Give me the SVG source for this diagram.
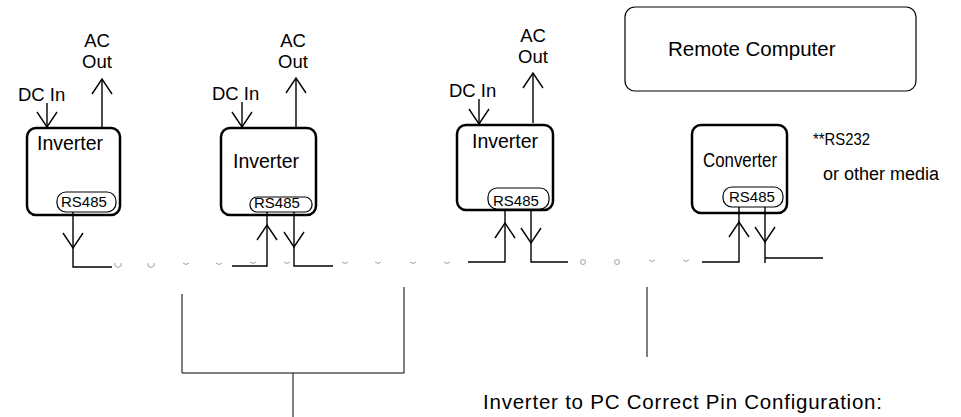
<svg xmlns="http://www.w3.org/2000/svg" width="961" height="417" viewBox="0 0 961 417">
<style>
.t{font-family:"Liberation Sans",Arial,sans-serif;fill:#000}
.box{fill:#fff;stroke:#000;stroke-width:2.5}
.pill{fill:#fff;stroke:#000;stroke-width:1.2}
.ln{fill:none;stroke:#000;stroke-width:1.4}
.thin{fill:none;stroke:#000;stroke-width:1}
.mk{fill:none;stroke:#999;stroke-width:0.9}
</style>
<defs>
<marker id="ah" markerUnits="userSpaceOnUse" viewBox="-17 -12 19 24" markerWidth="19" markerHeight="24" refX="0" refY="0" orient="auto">
<path d="M-15,-10 L0,0 L-15,10" fill="none" stroke="#000" stroke-width="1.4"/>
</marker>
<path id="sm" d="M-3,-1 Q0,2 3,-1" class="mk"/>
<path id="cup" d="M-3,-3 L-3,0 Q0,3 3,0 L3,-3" class="mk"/>
<circle id="oo" r="2.5" class="mk"/>
</defs>
<rect width="961" height="417" fill="#fff"/>

<g id="remote-computer">
<rect x="625" y="7" width="291" height="84" rx="10" fill="#fff" stroke="#000" stroke-width="1.2"/>
<text class="t" x="668" y="56" font-size="20.5">Remote Computer</text>
</g>

<g id="inverter1">
<rect class="box" x="27" y="128" width="93" height="87" rx="9"/>
<text class="t" x="37" y="150" font-size="19.5">Inverter</text>
<rect class="pill" x="57" y="192" width="59" height="20" rx="9"/>
<text class="t" x="61" y="207" font-size="15">RS485</text>
<text class="t" x="18" y="101" font-size="18.5">DC In</text>
<text class="t" x="97" y="47" font-size="18.5" text-anchor="middle">AC</text>
<text class="t" x="97" y="68" font-size="18.5" text-anchor="middle">Out</text>
</g>

<g id="inverter2">
<rect class="box" x="221" y="128" width="95" height="87" rx="9"/>
<text class="t" x="233" y="168" font-size="19.5">Inverter</text>
<rect class="pill" x="250" y="197" width="62" height="15" rx="7"/>
<text class="t" x="254" y="208" font-size="15">RS485</text>
<text class="t" x="212" y="100" font-size="18.5">DC In</text>
<text class="t" x="293" y="47" font-size="18.5" text-anchor="middle">AC</text>
<text class="t" x="293" y="68" font-size="18.5" text-anchor="middle">Out</text>
</g>

<g id="inverter3">
<rect class="box" x="457" y="125" width="96" height="85" rx="9"/>
<text class="t" x="472" y="148" font-size="19.5">Inverter</text>
<rect class="pill" x="488" y="188" width="61" height="21" rx="9"/>
<text class="t" x="493" y="206" font-size="15">RS485</text>
<text class="t" x="449" y="97" font-size="18.5">DC In</text>
<text class="t" x="533" y="42" font-size="18.5" text-anchor="middle">AC</text>
<text class="t" x="533" y="63" font-size="18.5" text-anchor="middle">Out</text>
</g>

<g id="converter">
<rect class="box" x="692" y="125" width="95" height="88" rx="9"/>
<text class="t" x="703" y="167" font-size="20" textLength="74" lengthAdjust="spacingAndGlyphs">Converter</text>
<rect class="pill" x="723" y="187" width="60" height="20" rx="9"/>
<text class="t" x="729" y="202" font-size="15">RS485</text>
</g>

<g id="labels">
<text class="t" x="813" y="145" font-size="17" textLength="57" lengthAdjust="spacingAndGlyphs">**RS232</text>
<text class="t" x="823" y="180" font-size="18">or other media</text>
<text class="t" x="483" y="409" font-size="20.5" textLength="399">Inverter to PC Correct Pin Configuration:</text>
</g>

<g id="connectors">
<line class="ln" x1="47" y1="103" x2="47" y2="127" marker-end="url(#ah)"/>
<line class="ln" x1="102" y1="127" x2="102" y2="79" marker-end="url(#ah)"/>
<line class="ln" x1="242" y1="102" x2="242" y2="127" marker-end="url(#ah)"/>
<line class="ln" x1="296" y1="127" x2="296" y2="78" marker-end="url(#ah)"/>
<line class="ln" x1="479" y1="99" x2="479" y2="124" marker-end="url(#ah)"/>
<line class="ln" x1="533" y1="123" x2="533" y2="73" marker-end="url(#ah)"/>
<line class="ln" x1="73" y1="212" x2="73" y2="248" marker-end="url(#ah)"/>
<path class="ln" d="M73,248 V267 H112"/>
<path class="ln" d="M232,266 H267 V225" marker-end="url(#ah)"/>
<line class="ln" x1="267" y1="225" x2="267" y2="212"/>
<line class="ln" x1="294" y1="212" x2="294" y2="247" marker-end="url(#ah)"/>
<path class="ln" d="M294,247 V266 H333"/>
<path class="ln" d="M468,262 H505 V223" marker-end="url(#ah)"/>
<line class="ln" x1="505" y1="223" x2="505" y2="209"/>
<line class="ln" x1="531" y1="209" x2="531" y2="243" marker-end="url(#ah)"/>
<path class="ln" d="M531,243 V262 H568"/>
<path class="ln" d="M702,262 H739 V222" marker-end="url(#ah)"/>
<line class="ln" x1="739" y1="222" x2="739" y2="207"/>
<line class="ln" x1="765" y1="207" x2="765" y2="242" marker-end="url(#ah)"/>
<line class="ln" x1="765" y1="242" x2="765" y2="263"/>
<line class="ln" x1="765" y1="258" x2="823" y2="258"/>
<path class="thin" d="M182,294 V373 H404 V287"/>
<line class="thin" x1="293" y1="373" x2="293" y2="417"/>
<line class="thin" x1="647" y1="287" x2="647" y2="357"/>
</g>

<g id="marks">
<use href="#cup" x="118" y="266"/>
<use href="#cup" x="151" y="266"/>
<use href="#sm" x="186" y="264"/>
<use href="#sm" x="219" y="264"/>
<use href="#sm" x="253" y="263"/>
<use href="#sm" x="287" y="263"/>
<use href="#sm" x="345" y="263"/>
<use href="#sm" x="378" y="263"/>
<use href="#sm" x="413" y="263"/>
<use href="#sm" x="447" y="263"/>
<use href="#oo" x="583" y="262"/>
<use href="#oo" x="617" y="262"/>
<use href="#sm" x="652" y="261"/>
<use href="#sm" x="686" y="261"/>
</g>
</svg>
